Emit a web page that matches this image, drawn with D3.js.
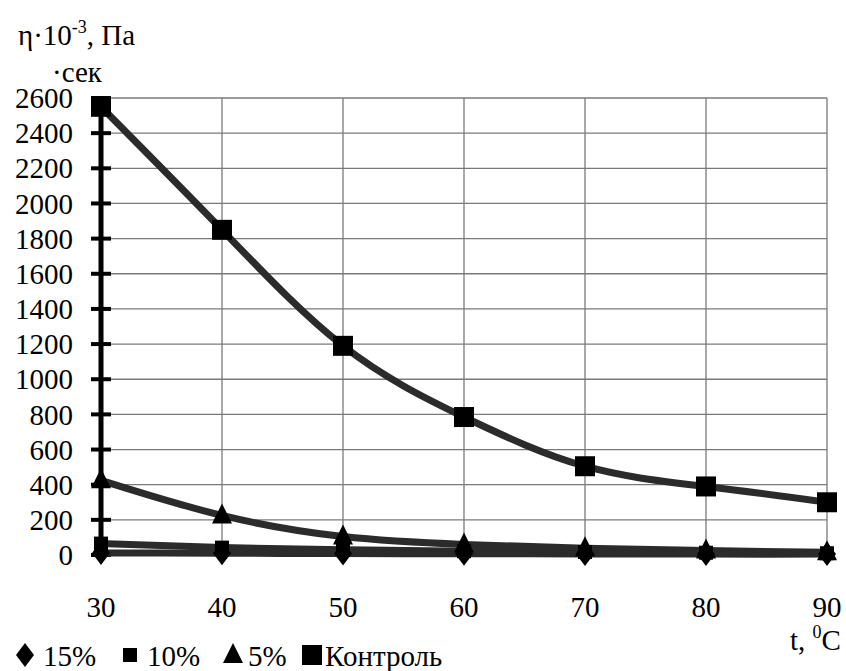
<!DOCTYPE html>
<html>
<head>
<meta charset="utf-8">
<script src="https://cdn.jsdelivr.net/npm/d3@7"></script>
</head>
<body style="margin:0">
<svg id="chart" width="846" height="671" font-family="Times New Roman" style="font-family:'Times New Roman','Liberation Serif',serif"></svg>
<script>
const temps = [30, 40, 50, 60, 70, 80, 90];
const yTicks = [0, 200, 400, 600, 800, 1000, 1200, 1400, 1600, 1800, 2000, 2200, 2400, 2600];

const s15 = [12, 10, 8, 7, 6, 5, 5];
const s10 = [65, 42, 30, 22, 17, 13, 10];
const s5 = [425, 225, 105, 60, 38, 25, 15];
const control = [2550, 1850, 1190, 785, 505, 390, 300];

const series = [
  { name: "Контроль", values: control, marker: "bigSquare" },
  { name: "5%", values: s5, marker: "triangle" },
  { name: "10%", values: s10, marker: "square" },
  { name: "15%", values: s15, marker: "diamond" }
];

const svg = d3.select("#chart");
const margin = { left: 101, right: 19, top: 98, bottom: 116 };
const width = 846, height = 671;

const x = d3.scaleLinear().domain([30, 90]).range([margin.left, width - margin.right]);
const y = d3.scaleLinear().domain([0, 2600]).range([height - margin.bottom, margin.top]);

function label(sel) {
  return sel.attr("font-size", 29).attr("fill", "#000");
}

// grid
svg.append("g")
  .selectAll("line")
  .data(yTicks)
  .join("line")
  .attr("x1", x(30)).attr("x2", x(90))
  .attr("y1", d => y(d)).attr("y2", d => y(d))
  .attr("stroke", "#7a7a7a").attr("stroke-width", 1.3);

svg.append("g")
  .selectAll("line")
  .data(temps)
  .join("line")
  .attr("x1", d => x(d)).attr("x2", d => x(d))
  .attr("y1", y(0)).attr("y2", y(2600))
  .attr("stroke", "#7a7a7a").attr("stroke-width", 1.3);

// y axis labels
svg.append("g")
  .selectAll("text")
  .data(yTicks)
  .join("text")
  .attr("x", x(30) - 28)
  .attr("y", d => y(d))
  .attr("dy", "0.35em")
  .attr("text-anchor", "end")
  .call(label)
  .text(d => d);

svg.append("line")
  .attr("x1", x(30)).attr("x2", x(30))
  .attr("y1", y(0) + 4).attr("y2", y(2600))
  .attr("stroke", "#000").attr("stroke-width", 5);

svg.append("g")
  .selectAll("line")
  .data(yTicks)
  .join("line")
  .attr("x1", x(30) - 10).attr("x2", x(30) + 10)
  .attr("y1", d => y(d)).attr("y2", d => y(d))
  .attr("stroke", "#000").attr("stroke-width", 4);

// x axis labels
svg.append("g")
  .selectAll("text")
  .data(temps)
  .join("text")
  .attr("x", d => x(d))
  .attr("y", y(0) + 62)
  .attr("text-anchor", "middle")
  .call(label)
  .text(d => d);

// lines
const line = d3.line()
  .x((d, i) => x(temps[i]))
  .y(d => y(d))
  .curve(d3.curveNatural);

svg.append("g")
  .selectAll("path")
  .data(series)
  .join("path")
  .attr("d", d => line(d.values))
  .attr("fill", "none")
  .attr("stroke", "#2b2b2b")
  .attr("stroke-width", 7);

function marker(g, type) {
  if (type === "bigSquare") {
    g.append("rect").attr("x", -10).attr("y", -10).attr("width", 20).attr("height", 20);
  } else if (type === "square") {
    g.append("rect").attr("x", -7).attr("y", -7).attr("width", 14).attr("height", 14);
  } else if (type === "triangle") {
    g.append("path").attr("d", "M0,-12L10,8L-10,8Z");
  } else {
    g.append("path").attr("d", "M0,-12L9,0L0,12L-9,0Z");
  }
}

series.forEach(s => {
  svg.append("g")
    .selectAll("g")
    .data(s.values)
    .join("g")
    .attr("transform", (d, i) => `translate(${x(temps[i])},${y(d)})`)
    .attr("fill", "#000")
    .each(function () { marker(d3.select(this), s.marker); });
});

// titles
const title = svg.append("text").attr("x", 18).attr("y", 45).call(label);
title.append("tspan").text("η·10");
title.append("tspan").attr("font-size", 18).attr("dy", -12).text("-3");
title.append("tspan").attr("dy", 12).text(", Па");
svg.append("text").attr("x", 52).attr("y", 82).call(label).text("·сек");

const xt = svg.append("text").attr("x", 790).attr("y", 650).call(label);
xt.append("tspan").text("t, ");
xt.append("tspan").attr("font-size", 18).attr("dy", -12).text("0");
xt.append("tspan").attr("dy", 12).text("C");

// legend
const legendItems = [
  { name: "15%", marker: "diamond", mx: 25, tx: 43 },
  { name: "10%", marker: "square", mx: 130, tx: 147 },
  { name: "5%", marker: "triangle", mx: 233, tx: 248 },
  { name: "Контроль", marker: "bigSquare", mx: 312, tx: 325 }
];
legendItems.forEach(it => {
  const g = svg.append("g").attr("transform", `translate(${it.mx},655)`).attr("fill", "#000");
  marker(g, it.marker);
  svg.append("text").attr("x", it.tx).attr("y", 666).call(label).text(it.name);
});
</script>
</body>
</html>
